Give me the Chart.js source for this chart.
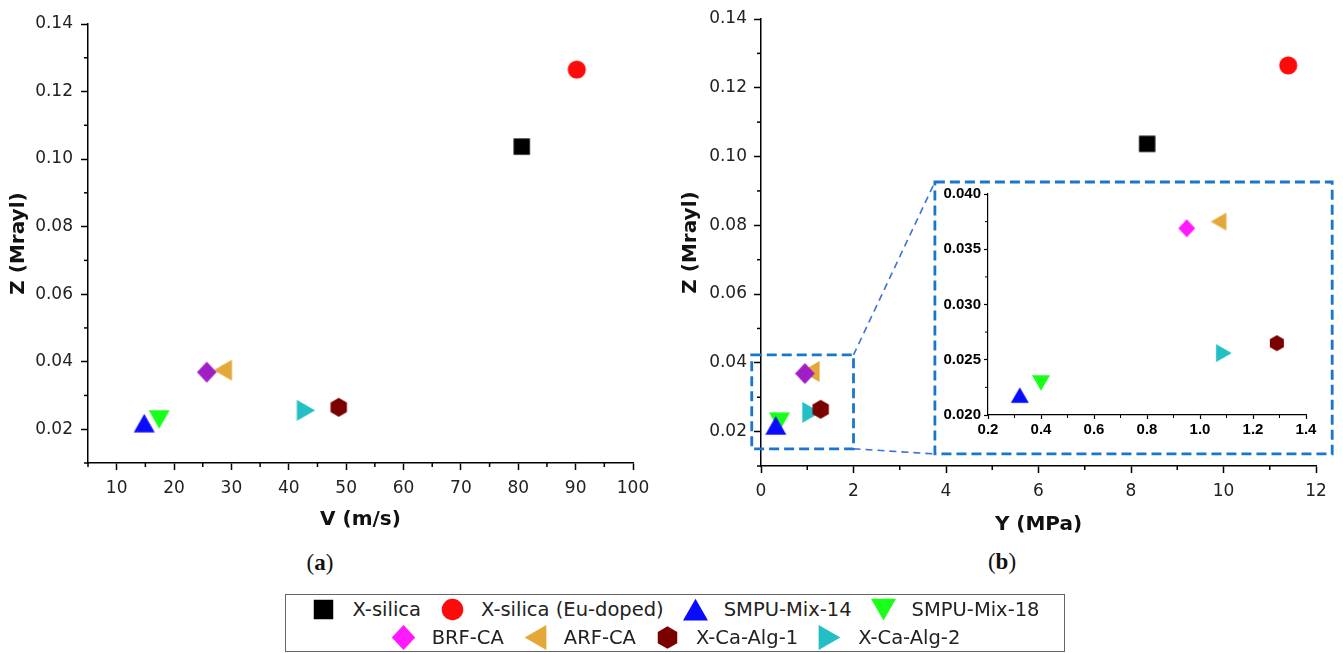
<!DOCTYPE html>
<html>
<head>
<meta charset="utf-8">
<script src="https://cdn.jsdelivr.net/npm/chart.js@4.4.1/dist/chart.umd.min.js"></script>
<style>
  body { margin: 0; background: #fff; width: 1343px; height: 653px; position: relative; overflow: hidden; }
  canvas.plot { position: absolute; }
  .cap { position: absolute; width: 80px; text-align: center; font: 23px "Liberation Serif", serif; line-height: 30px; color: #111; }
  #legend { position: absolute; left: 285px; top: 594px; width: 778px; height: 56px; border: 1px solid #666;
            font: 19.5px "DejaVu Sans", sans-serif; color: #222; }
  #legend .row { display: flex; justify-content: center; align-items: center; height: 28px; }
  #legend .item { display: flex; align-items: center; margin: 0 9px; white-space: nowrap; }
  #legend canvas { margin-right: 15px; }
</style>
</head>
<body>
<canvas id="chartA" class="plot" width="660" height="540" style="left:0;top:0"></canvas>
<canvas id="chartB" class="plot" width="669" height="540" style="left:674px;top:0"></canvas>
<canvas id="chartC" class="plot" width="10" height="10"></canvas>
<div class="cap" style="left:280px;top:548px">(<b>a</b>)</div>
<div class="cap" style="left:962px;top:547px">(<b>b</b>)</div>
<div id="legend"></div>

<script>
// ---- data ----
const names  = ['X-silica', 'X-silica (Eu-doped)', 'SMPU-Mix-14', 'SMPU-Mix-18', 'BRF-CA', 'ARF-CA', 'X-Ca-Alg-1', 'X-Ca-Alg-2'];
const shapes = ['square', 'circle', 'triangleUp', 'triangleDown', 'diamond', 'triangleLeft', 'hexagon', 'triangleRight'];
const colors = ['#000000', '#ff0a0a', '#0a0aff', '#1aff1a', '#ff19ff', '#e3a838', '#7b0000', '#22c0c4'];
const mainDiamond = '#a01ec8'; // BRF-CA is drawn purple in the two main panels

const zValues = [0.1037, 0.1265, 0.0218, 0.0229, 0.0369, 0.0375, 0.0265, 0.0256]; // Z (Mrayl)
const vValues = [80.6, 90.2, 14.8, 17.4, 25.7, 28.5, 48.7, 43.0];                 // V (m/s), panel a
const yValues = [8.35, 11.4, 0.32, 0.40, 0.95, 1.07, 1.29, 1.09];                 // Y (MPa), panel b

// zoomed region of panel b and where its inset sits (in panel b data units)
const zoomBox    = { xMin: -0.2, xMax: 2.0, yMin: 0.015, yMax: 0.0423 };
const insetFrame = { xMin: 3.76, xMax: 12.35, yMin: 0.0135, yMax: 0.0926 };

// ---- markers ----
function marker(shape, color, s) {
  const c = document.createElement('canvas');
  c.width = c.height = Math.ceil(s) + 2;
  const g = c.getContext('2d');
  const m = c.width / 2;
  g.fillStyle = color;
  g.beginPath();
  if (shape === 'square') {
    const a = s * 0.39;
    g.rect(m - a, m - a, 2 * a, 2 * a);
  } else if (shape === 'circle') {
    g.arc(m, m, s * 0.43, 0, Math.PI * 2);
  } else if (shape === 'diamond') {
    const w = s * 0.47, h = s * 0.5;
    g.moveTo(m, m - h); g.lineTo(m + w, m); g.lineTo(m, m + h); g.lineTo(m - w, m);
  } else if (shape === 'hexagon') {
    const r = s * 0.45;
    for (let i = 0; i < 6; i++) {
      const a = Math.PI / 2 + i * Math.PI / 3;
      g.lineTo(m + r * Math.cos(a), m + r * Math.sin(a));
    }
  } else {
    const dir = { triangleUp: -Math.PI / 2, triangleDown: Math.PI / 2, triangleLeft: Math.PI, triangleRight: 0 }[shape];
    const h = s * 0.87, b = s * 0.5;
    const ux = Math.cos(dir), uy = Math.sin(dir), vx = -uy, vy = ux;
    g.moveTo(m + ux * h / 2, m + uy * h / 2);
    g.lineTo(m - ux * h / 2 + vx * b, m - uy * h / 2 + vy * b);
    g.lineTo(m - ux * h / 2 - vx * b, m - uy * h / 2 - vy * b);
  }
  g.closePath();
  g.fill();
  return c;
}

function datasets(xs, size, diamondColor) {
  return names.map((name, i) => ({
    label: name,
    data: [{ x: xs[i], y: zValues[i] }],
    pointStyle: marker(shapes[i], i === 4 ? diamondColor : colors[i], size),
    pointRadius: size / 2,
    showLine: false
  }));
}

// ---- axes ----
function makeAxis(o) {
  const isMajor = v => Math.abs(v / o.major - Math.round(v / o.major)) < 1e-6;
  return {
    type: 'linear',
    position: o.position,
    min: o.min, max: o.max,
    afterFit: s => { if (o.position === 'left') s.width = o.size; else s.height = o.size; },
    border: { display: true, color: '#000', width: o.lw },
    grid: {
      display: true, drawOnChartArea: false, drawTicks: true,
      tickLength: o.tickLen, tickWidth: o.lw,
      tickColor: c => (c.tick && isMajor(c.tick.value)) ? '#000' : 'rgba(0,0,0,0)'
    },
    ticks: {
      stepSize: o.step, autoSkip: false, maxRotation: 0, padding: o.pad,
      color: o.color, font: o.font,
      callback: v => isMajor(v) ? v.toFixed(o.digits) : ''
    },
    title: o.title
      ? { display: true, text: o.title, color: '#111', padding: o.titlePad,
          font: { family: 'DejaVu Sans', size: 20, weight: 'bold' } }
      : { display: false }
  };
}

const minorTicks = {
  id: 'minorTicks',
  afterDraw(chart, args, opts) {
    const ctx = chart.ctx;
    ctx.save();
    ctx.strokeStyle = '#000';
    ctx.lineWidth = opts.width;
    ['x', 'y'].forEach(id => {
      const scale = chart.scales[id];
      scale.ticks.forEach(t => {
        if (t.label !== '') return;
        const p = scale.getPixelForValue(t.value);
        ctx.beginPath();
        if (id === 'x') { ctx.moveTo(p, scale.top); ctx.lineTo(p, scale.top + opts.len); }
        else { ctx.moveTo(scale.right, p); ctx.lineTo(scale.right - opts.len, p); }
        ctx.stroke();
      });
    });
    ctx.restore();
  }
};

const zoomLines = {
  id: 'zoomLines',
  beforeDatasetsDraw(chart) {
    const ctx = chart.ctx, sx = chart.scales.x, sy = chart.scales.y;
    const b = {
      l: sx.getPixelForValue(zoomBox.xMin), r: sx.getPixelForValue(zoomBox.xMax),
      t: sy.getPixelForValue(zoomBox.yMax), btm: sy.getPixelForValue(zoomBox.yMin)
    };
    const f = {
      l: sx.getPixelForValue(insetFrame.xMin), r: sx.getPixelForValue(insetFrame.xMax),
      t: sy.getPixelForValue(insetFrame.yMax), btm: sy.getPixelForValue(insetFrame.yMin)
    };
    ctx.save();
    ctx.strokeStyle = '#1a76cc';
    ctx.lineWidth = 2.8;
    ctx.setLineDash([10, 5]);
    ctx.strokeRect(b.l, b.t, b.r - b.l, b.btm - b.t);
    ctx.strokeRect(f.l, f.t, f.r - f.l, f.btm - f.t);
    ctx.strokeStyle = '#3d6fd6';
    ctx.lineWidth = 1.6;
    ctx.setLineDash([7, 5]);
    ctx.beginPath();
    ctx.moveTo(b.r, b.t); ctx.lineTo(f.l, f.t);
    ctx.moveTo(b.r, b.btm); ctx.lineTo(f.l, f.btm);
    ctx.stroke();
    ctx.restore();
  }
};

const tickFont = { family: 'DejaVu Sans', size: 17 };
const common = {
  responsive: false,
  animation: false,
  events: [],
  plugins: { legend: { display: false }, tooltip: { enabled: false }, minorTicks: { len: 4, width: 1.5 } }
};

// ---- panel (a) ----
new Chart(document.getElementById('chartA'), {
  type: 'scatter',
  data: { datasets: datasets(vValues, 21, mainDiamond) },
  plugins: [minorTicks],
  options: {
    ...common,
    layout: { padding: { left: 0, top: 24, right: 27, bottom: 0 } },
    scales: {
      x: makeAxis({ position: 'bottom', min: 5, max: 100, step: 5, major: 10, digits: 0, size: 77,
                    lw: 1.5, tickLen: 7, pad: 8, color: '#222', font: tickFont,
                    title: 'V (m/s)', titlePad: { top: 0, bottom: 8 } }),
      y: makeAxis({ position: 'left', min: 0.01, max: 0.14, step: 0.01, major: 0.02, digits: 2, size: 88,
                    lw: 1.5, tickLen: 7, pad: 8, color: '#222', font: tickFont,
                    title: 'Z (Mrayl)', titlePad: { top: 7, bottom: 0 } })
    }
  }
});

// ---- panel (b) ----
const chartB = new Chart(document.getElementById('chartB'), {
  type: 'scatter',
  data: { datasets: datasets(yValues, 21, mainDiamond) },
  plugins: [minorTicks, zoomLines],
  options: {
    ...common,
    layout: { padding: { left: 0, top: 19, right: 27, bottom: 0 } },
    scales: {
      x: makeAxis({ position: 'bottom', min: 0, max: 12, step: 1, major: 2, digits: 0, size: 74,
                    lw: 1.5, tickLen: 7, pad: 8, color: '#222', font: tickFont,
                    title: 'Y (MPa)', titlePad: { top: 0, bottom: 3 } }),
      y: makeAxis({ position: 'left', min: 0.01, max: 0.14, step: 0.01, major: 0.02, digits: 2, size: 87,
                    lw: 1.5, tickLen: 7, pad: 7, color: '#222', font: tickFont,
                    title: 'Z (Mrayl)', titlePad: { top: 5, bottom: 0 } })
    }
  }
});

// ---- inset of panel (b), placed on the dashed frame ----
const cB = document.getElementById('chartB');
const frameL = cB.offsetLeft + chartB.scales.x.getPixelForValue(insetFrame.xMin);
const frameR = cB.offsetLeft + chartB.scales.x.getPixelForValue(insetFrame.xMax);
const frameT = cB.offsetTop + chartB.scales.y.getPixelForValue(insetFrame.yMax);
const frameB = cB.offsetTop + chartB.scales.y.getPixelForValue(insetFrame.yMin);
const cC = document.getElementById('chartC');
cC.width = Math.round(frameR - frameL);
cC.height = Math.round(frameB - frameT);
cC.style.left = Math.round(frameL) + 'px';
cC.style.top = Math.round(frameT) + 'px';

const insetFont = { family: 'Liberation Sans', size: 15, weight: 'bold' };
new Chart(cC, {
  type: 'scatter',
  data: { datasets: datasets(yValues, 18, colors[4]) },
  plugins: [minorTicks],
  options: {
    ...common,
    plugins: { ...common.plugins, minorTicks: { len: 3, width: 1 } },
    layout: { padding: { left: 0, top: 12, right: 26, bottom: 0 } },
    scales: {
      x: makeAxis({ position: 'bottom', min: 0.2, max: 1.4, step: 0.1, major: 0.2, digits: 1, size: 39,
                    lw: 1.2, tickLen: 4, pad: 2, color: '#000', font: insetFont }),
      y: makeAxis({ position: 'left', min: 0.02, max: 0.04, step: 0.0025, major: 0.005, digits: 3, size: 53,
                    lw: 1.2, tickLen: 4, pad: 3, color: '#000', font: insetFont })
    }
  }
});

// ---- shared legend ----
const legend = document.getElementById('legend');
[[0, 1, 2, 3], [4, 5, 6, 7]].forEach(rowIdx => {
  const row = document.createElement('div');
  row.className = 'row';
  rowIdx.forEach(i => {
    const item = document.createElement('div');
    item.className = 'item';
    item.appendChild(marker(shapes[i], colors[i], 25));
    const label = document.createElement('span');
    label.textContent = names[i];
    item.appendChild(label);
    row.appendChild(item);
  });
  legend.appendChild(row);
});
</script>
</body>
</html>
